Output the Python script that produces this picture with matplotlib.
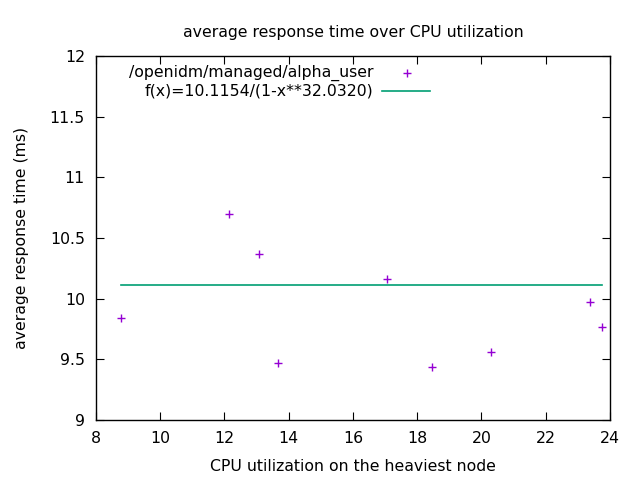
import matplotlib
matplotlib.use('Agg')
import matplotlib.pyplot as pyplot

# measured points: cpu utilization (%) vs average response time (ms)
cpu_util = [8.78, 12.14, 13.07, 13.67, 17.06, 18.46, 20.30, 23.38, 23.75]
resp_time = [9.84, 10.70, 10.37, 9.47, 10.16, 9.44, 9.56, 9.97, 9.77]

# fitted curve f(x)=10.1154/(1-x**32.0320), flat over this range
fit_x = [8.78, 23.75]
fit_y = [10.1154, 10.1154]

series_label = '/openidm/managed/alpha_user'
fit_label = 'f(x)=10.1154/(1-x**32.0320)'

x_ticks = [8, 10, 12, 14, 16, 18, 20, 22, 24]
y_ticks = [9, 9.5, 10, 10.5, 11, 11.5, 12]
y_tick_labels = ['9', '9.5', '10', '10.5', '11', '11.5', '12']

point_color = '#9400d3'
line_color = '#009e73'
font_size = 11.3

figure = pyplot.figure(figsize=(6.4, 4.8), dpi=100)
axes = figure.add_axes([0.15, 0.125, 0.803, 0.758])

axes.plot(cpu_util, resp_time, '+', color=point_color, markersize=6,
          markeredgewidth=1.0)
axes.plot(fit_x, fit_y, '-', color=line_color, linewidth=1.2)

# format
axes.set_xlim(8, 24)
axes.set_ylim(9, 12)
axes.set_xticks(x_ticks)
axes.set_yticks(y_ticks)
axes.set_yticklabels(y_tick_labels)
axes.tick_params(direction='in', top=True, right=True, length=6,
                 labelsize=font_size, pad=8)
for spine in axes.spines.values():
  spine.set_linewidth(1.0)

axes.set_title('average response time over CPU utilization',
               fontsize=font_size, pad=14)
axes.set_xlabel('CPU utilization on the heaviest node', fontsize=font_size,
                labelpad=9)
axes.set_ylabel('average response time (ms)', fontsize=font_size,
                labelpad=15)

# gnuplot style key: right aligned text, sample to the right
axes.text(0.539, 0.953, series_label, transform=axes.transAxes,
          ha='right', va='center', fontsize=font_size)
axes.plot([0.605], [0.953], '+', color=point_color, markersize=6,
          markeredgewidth=1.0, transform=axes.transAxes, clip_on=False)
axes.text(0.539, 0.904, fit_label, transform=axes.transAxes,
          ha='right', va='center', fontsize=font_size)
axes.plot([0.556, 0.650], [0.904, 0.904], '-', color=line_color,
          linewidth=1.2, transform=axes.transAxes, clip_on=False)

figure.savefig('out.png', dpi=100)
